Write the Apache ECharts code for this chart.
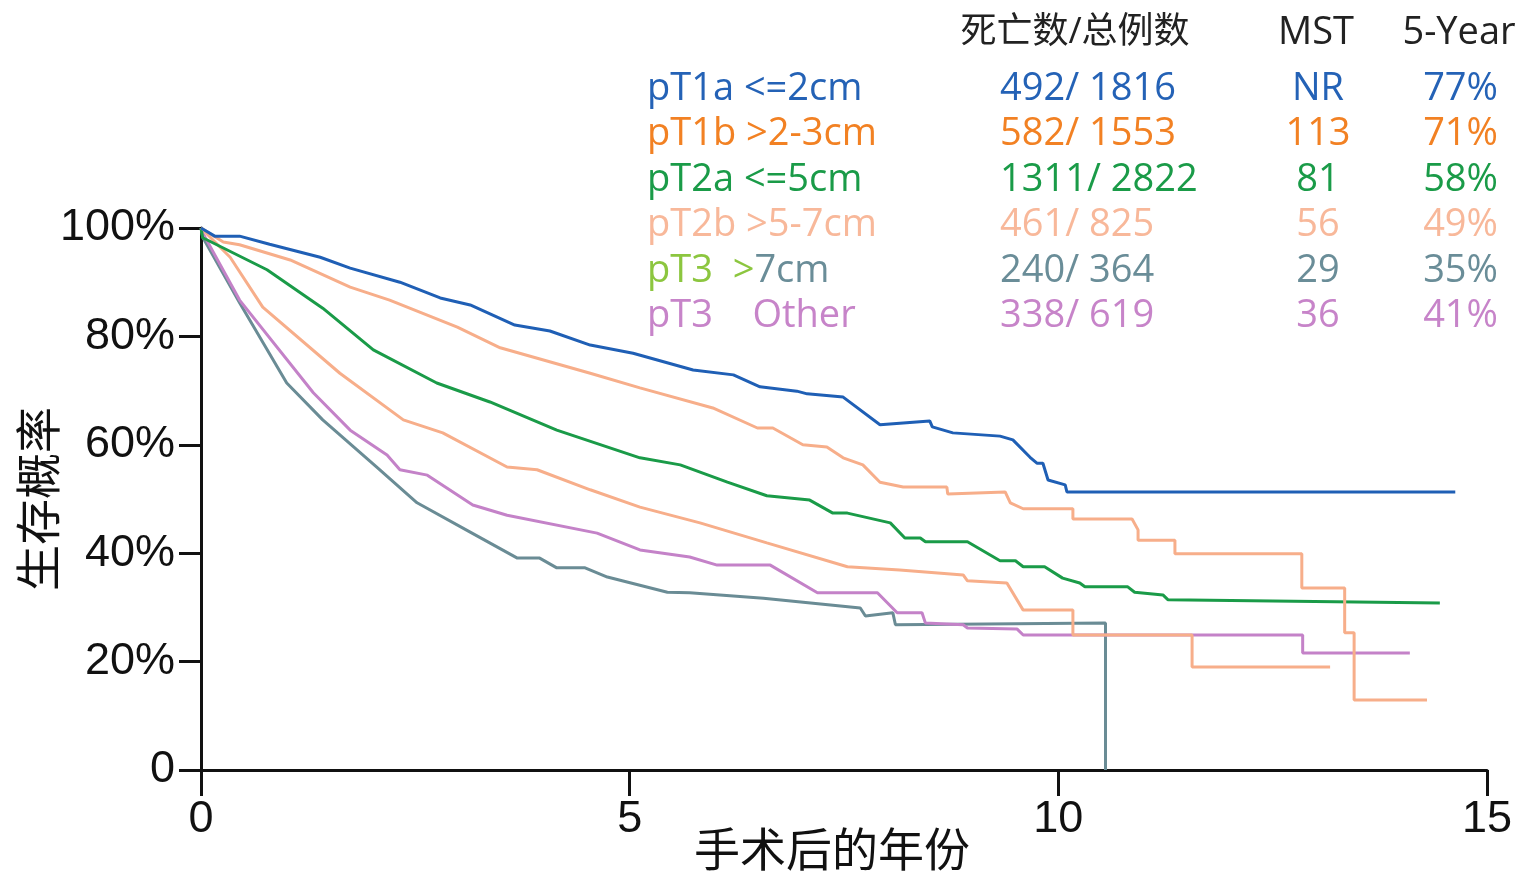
<!DOCTYPE html>
<html>
<head>
<meta charset="utf-8">
<script src="https://cdn.jsdelivr.net/npm/echarts@6/dist/echarts.min.js"></script>
<style>
html,body{margin:0;padding:0;background:#fff;}
#main{width:1519px;height:872px;}
</style>
</head>
<body>
<div id="main"></div>
<script>
// ---- Data (years after surgery, survival %) ----
var pT1a = [[0,100],[0.16,98.5],[0.45,98.5],[0.80,97.0],[1.39,94.6],[1.74,92.6],[2.32,90.0],[2.79,87.1],[3.14,85.8],[3.66,82.1],[4.07,81.0],[4.54,78.4],[5.04,76.9],[5.74,73.8],[6.21,72.9],[6.52,70.7],[6.95,69.9],[7.07,69.4],[7.49,68.8],[7.92,63.7],[8.50,64.4],[8.53,63.3],[8.77,62.2],[9.32,61.6],[9.47,60.9],[9.67,57.7],[9.75,56.6],[9.82,56.6],[9.88,53.5],[10.08,52.6],[10.10,51.3],[14.63,51.3]];
var pT1b = [[0,100],[0.26,97.4],[0.45,96.9],[1.04,94.1],[1.74,89.1],[2.20,86.7],[2.99,81.7],[3.49,77.9],[4.54,73.2],[5.12,70.5],[5.97,66.8],[6.49,63.1],[6.67,63.1],[7.02,60.0],[7.30,59.6],[7.49,57.6],[7.72,56.3],[7.92,53.1],[8.19,52.2],[8.70,52.2],[8.71,50.9],[9.38,51.3],[9.44,49.3],[9.59,48.2],[10.17,48.2],[10.17,46.3],[10.86,46.3],[10.93,44.3],[10.93,42.4],[11.36,42.4],[11.36,39.9],[12.84,39.9],[12.84,33.6],[13.34,33.6],[13.34,25.3],[13.45,25.3],[13.45,12.9],[14.30,12.9]];
var pT2a = [[0,100],[0.02,98.2],[0.77,92.3],[1.42,85.2],[2.01,77.5],[2.75,71.4],[3.37,67.9],[4.15,62.7],[5.12,57.6],[5.59,56.3],[6.14,53.1],[6.60,50.6],[7.10,49.8],[7.37,47.4],[7.54,47.4],[8.04,45.6],[8.21,42.8],[8.39,42.8],[8.45,42.1],[8.94,42.1],[9.32,38.6],[9.50,38.6],[9.59,37.5],[9.84,37.5],[10.05,35.4],[10.25,34.5],[10.31,33.8],[10.81,33.8],[10.89,32.8],[11.22,32.3],[11.28,31.4],[14.45,30.8]];
var pT2b = [[0,100],[0.34,94.6],[0.72,85.4],[1.62,73.2],[2.36,64.6],[2.82,62.2],[3.57,55.9],[3.92,55.4],[4.54,51.7],[5.12,48.5],[5.82,45.6],[6.60,41.9],[7.54,37.5],[8.15,36.9],[8.89,36.0],[8.94,34.9],[9.40,34.5],[9.59,29.5],[10.17,29.5],[10.17,24.9],[11.56,24.9],[11.56,19.0],[13.17,19.0]];
var pT3big = [[0,100],[0.02,98.3],[0.45,86.2],[1.00,71.4],[1.42,64.6],[2.05,55.9],[2.52,49.3],[3.14,43.9],[3.69,39.1],[3.95,39.1],[4.15,37.3],[4.48,37.3],[4.74,35.6],[5.44,32.8],[5.70,32.7],[6.56,31.7],[7.69,29.9],[7.75,28.4],[8.07,29.0],[8.10,26.8],[10.55,27.1],[10.55,0]];
var pT3other = [[0,100],[0.02,99.1],[0.45,86.7],[1.31,69.6],[1.74,62.7],[2.17,58.1],[2.32,55.4],[2.64,54.4],[3.17,48.9],[3.57,47.0],[4.62,43.7],[5.12,40.6],[5.70,39.3],[6.02,37.8],[6.64,37.8],[7.19,32.7],[7.89,32.7],[8.12,29.0],[8.41,29.0],[8.45,27.1],[8.89,26.8],[8.94,26.2],[9.52,26.0],[9.59,24.9],[12.85,24.9],[12.85,21.6],[14.10,21.6]];

// ---- Table text ----
var groupNames = ['pT1a <=2cm','pT1b >2-3cm','pT2a <=5cm','pT2b >5-7cm','pT3  >7cm','pT3    Other'];
var deathsTotal = ['492/ 1816','582/ 1553','1311/ 2822','461/ 825','240/ 364','338/ 619'];
var mstValues = ['NR','113','81','56','29','36'];
var fiveYear = ['77%','71%','58%','49%','35%','41%'];
var tableHeaders = ['死亡数/总例数','MST','5-Year'];
var xTickLabels = ['0','5','10','15'];
var axisNames = ['手术后的年份','生存概率'];

// ---- Styles ----
var lineColors = ['#1f5fb5','#f7ae8a','#1a9b48','#f7ae8a','#6a8c95','#c482c8'];
var textColors = ['#2462b6','#f28123','#1a9b48','#f8b89a','#6a8d98','#c784c9'];
var lineData = [pT1a, pT1b, pT2a, pT2b, pT3big, pT3other];
var drawOrder = [4,5,3,2,1,0];

var chart = echarts.init(document.getElementById('main'));

var textFont = '"Open Sans","Noto Sans","Noto Sans CJK SC",sans-serif';
var axisFont = '"Liberation Sans",Arial,"Noto Sans CJK SC",sans-serif';
var tFont = '38px ' + textFont;

var graphics = [];
var hdrX = [1075, 1316, 1459];
tableHeaders.forEach(function(t, i){
  graphics.push({type:'text', x:hdrX[i], y:33, style:{text:t, fill:'#222', font:(i === 0 ? '36px ' : '38px ') + textFont, align:'center', verticalAlign:'middle'}});
});
groupNames.forEach(function(n, i){
  var y = 89 + i*45.5;
  var nameStyle = {text:n, fill:textColors[i], font:tFont, align:'left', verticalAlign:'middle'};
  if (i === 4) {
    nameStyle = {text:'{a|pT3  >}{b|7cm}', font:tFont, align:'left', verticalAlign:'middle',
      rich:{a:{fill:'#8cc63f', font:tFont}, b:{fill:textColors[4], font:tFont}}};
  }
  graphics.push({type:'text', x:647, y:y, style:nameStyle});
  graphics.push({type:'text', x:1000, y:y, style:{text:deathsTotal[i], fill:textColors[i], font:tFont, align:'left', verticalAlign:'middle'}});
  graphics.push({type:'text', x:1318, y:y, style:{text:mstValues[i], fill:textColors[i], font:tFont, align:'center', verticalAlign:'middle'}});
  graphics.push({type:'text', x:1498, y:y, style:{text:fiveYear[i], fill:textColors[i], font:tFont, align:'right', verticalAlign:'middle'}});
});

var series = drawOrder.map(function(k, idx){
  return {
    type:'line', name:groupNames[k], data:lineData[k], showSymbol:false, symbol:'none',
    lineStyle:{color:lineColors[k], width:3}, itemStyle:{color:lineColors[k]},
    animation:false, z:2+idx
  };
});

chart.setOption({
  backgroundColor:'#fff',
  animation:false,
  grid:{left:201, right:32, top:228, bottom:102, containLabel:false, outerBoundsMode:'none'},
  xAxis:{
    type:'value', min:0, max:15, interval:5,
    name:axisNames[0], nameLocation:'middle', nameGap:56, nameMoveOverlap:false,
    nameTextStyle:{fontSize:46, color:'#111', fontFamily:'"Noto Sans CJK SC",sans-serif', padding:[0,24,0,0]},
    axisLine:{show:true, lineStyle:{color:'#111', width:3}},
    axisTick:{show:true, length:26, lineStyle:{color:'#111', width:3}},
    axisLabel:{fontSize:45, color:'#111', fontFamily:axisFont, margin:27,
      formatter:function(v){ return xTickLabels[Math.round(v/5)]; }},
    splitLine:{show:false}
  },
  yAxis:{
    type:'value', min:0, max:100, interval:20,
    name:axisNames[1], nameLocation:'middle', nameGap:140, nameMoveOverlap:false,
    nameTextStyle:{fontSize:46, color:'#111', fontFamily:'"Noto Sans CJK SC",sans-serif'},
    axisLine:{show:true, lineStyle:{color:'#111', width:3}},
    axisTick:{show:true, length:22, lineStyle:{color:'#111', width:3}},
    axisLabel:{fontSize:45, color:'#111', fontFamily:axisFont, margin:26,
      formatter:function(v){ return v === 0 ? '0' : v + '%'; }},
    splitLine:{show:false}
  },
  graphic:graphics,
  series:series
});
</script>
</body>
</html>
